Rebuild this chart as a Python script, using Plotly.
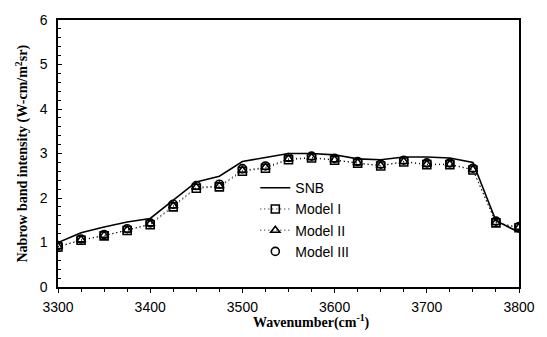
import plotly.graph_objects as go

# Wavenumber grid (cm^-1)
wavenumber = [3300, 3325, 3350, 3375, 3400, 3425, 3450, 3475, 3500, 3525, 3550,
              3575, 3600, 3625, 3650, 3675, 3700, 3725, 3750, 3775, 3800]

# Narrow band intensities (W-cm/m^2 sr)
snb = [1.00, 1.22, 1.35, 1.46, 1.54, 1.95, 2.36, 2.49, 2.82, 2.91, 3.00,
       3.00, 2.97, 2.88, 2.86, 2.92, 2.92, 2.90, 2.80, 1.49, 1.23]
model_1 = [0.90, 1.05, 1.15, 1.27, 1.40, 1.80, 2.22, 2.25, 2.60, 2.67, 2.86,
           2.90, 2.85, 2.78, 2.72, 2.81, 2.75, 2.75, 2.63, 1.44, 1.33]
model_2 = [0.91, 1.06, 1.16, 1.28, 1.42, 1.82, 2.24, 2.27, 2.62, 2.69, 2.88,
           2.91, 2.86, 2.79, 2.73, 2.82, 2.76, 2.76, 2.64, 1.45, 1.34]
model_3 = [0.93, 1.08, 1.18, 1.31, 1.44, 1.86, 2.28, 2.31, 2.66, 2.72, 2.91,
           2.94, 2.89, 2.82, 2.76, 2.85, 2.79, 2.79, 2.67, 1.48, 1.36]

x_ticks = [3300, 3400, 3500, 3600, 3700, 3800]
y_ticks = [0, 1, 2, 3, 4, 5, 6]

dotted = dict(color="black", width=1, dash="1px,3px")

fig = go.Figure()
fig.add_trace(go.Scatter(x=wavenumber, y=snb, name="SNB", mode="lines",
                         line=dict(color="black", width=1.6)))
fig.add_trace(go.Scatter(x=wavenumber, y=model_1, name="Model I", mode="lines+markers",
                         line=dotted,
                         marker=dict(symbol="square-open", size=8, color="black",
                                     line=dict(width=1.6))))
fig.add_trace(go.Scatter(x=wavenumber, y=model_2, name="Model II", mode="lines+markers",
                         line=dotted,
                         marker=dict(symbol="triangle-up-open", size=8, color="black",
                                     line=dict(width=1.6))))
fig.add_trace(go.Scatter(x=wavenumber, y=model_3, name="Model III", mode="markers",
                         marker=dict(symbol="circle-open", size=8, color="black",
                                     line=dict(width=1.6))))

tick_font = dict(family="Liberation Sans, Arial, sans-serif", size=14, color="black")
title_font = dict(family="Liberation Serif, Times New Roman, serif", size=14, color="black")

fig.update_layout(
    width=547, height=337,
    margin=dict(l=58, r=24, t=17, b=50),
    paper_bgcolor="white", plot_bgcolor="white",
    showlegend=True,
    legend=dict(x=0.428, y=0.43, xanchor="left", yanchor="top",
                bgcolor="rgba(0,0,0,0)", borderwidth=0,
                font=dict(family="Liberation Sans, Arial, sans-serif", size=14, color="black"),
                tracegroupgap=0, itemwidth=30),
    xaxis=dict(range=[3300, 3800], tickvals=x_ticks, ticktext=[str(v) for v in x_ticks],
               showgrid=False, zeroline=False, showline=True, linecolor="black",
               linewidth=1.5, mirror=True, ticks="outside", ticklen=4, tickwidth=1,
               tickcolor="black", tickfont=tick_font, ticklabelstandoff=2,
               minor=dict(dtick=25, ticks="outside", ticklen=3, tickcolor="black")),
    yaxis=dict(range=[0, 6], tickvals=y_ticks, showgrid=False, zeroline=False,
               showline=True, linecolor="black", linewidth=1.5, mirror=True,
               ticks="inside", ticklen=4, tickwidth=1, tickcolor="black",
               tickfont=tick_font, ticklabelstandoff=6,
               minor=dict(dtick=0.2, ticks="inside", ticklen=3, tickcolor="black")),
    annotations=[
        dict(text="<b>Nabrow band intensity (W-cm/m<sup>2</sup>sr)</b>", textangle=-90,
             xref="paper", yref="paper", x=-0.078, y=0.5, xanchor="center",
             yanchor="middle", showarrow=False, font=title_font),
        dict(text="<b>Wavenumber(cm<sup>-1</sup>)</b>", xref="paper", yref="paper",
             x=0.55, y=-0.13, xanchor="center", yanchor="middle", showarrow=False,
             font=title_font),
    ],
)

fig.write_html("out.html")
